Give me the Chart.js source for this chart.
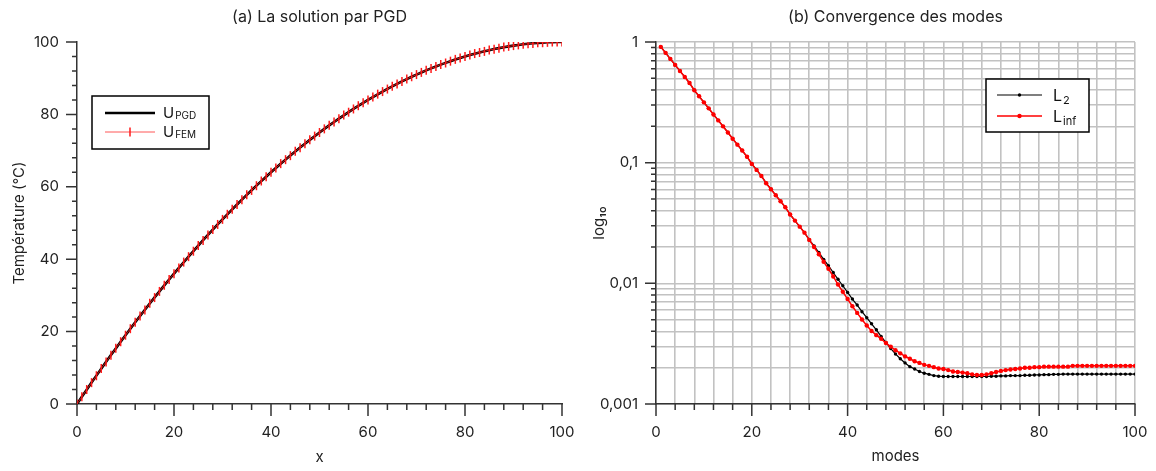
<!DOCTYPE html>
<html>
<head>
<meta charset="utf-8">
<script src="https://cdn.jsdelivr.net/npm/chart.js@4.4.0/dist/chart.umd.min.js"></script>
<style>
  html, body { margin: 0; padding: 0; background: #fff; }
  #wrap { position: relative; width: 1156px; height: 471px; }
  #wrap canvas { position: absolute; top: 0; }
</style>
</head>
<body>
<div id="wrap">
  <canvas id="tempChart" width="578" height="471" style="left:0"></canvas>
  <canvas id="convChart" width="578" height="471" style="left:578px"></canvas>
</div>
<script>
Chart.defaults.font.family = 'Inter, "Noto Sans", sans-serif';
Chart.defaults.font.size = 15;
Chart.defaults.color = '#222';

// (a) temperature along x
const xPos = [0,1,2,3,4,5,6,7,8,9,10,11,12,13,14,15,16,17,18,19,20,21,22,23,24,25,26,27,28,29,30,
  31,32,33,34,35,36,37,38,39,40,41,42,43,44,45,46,47,48,49,50,51,52,53,54,55,56,57,58,59,60,
  61,62,63,64,65,66,67,68,69,70,71,72,73,74,75,76,77,78,79,80,81,82,83,84,85,86,87,88,89,90,
  91,92,93,94,95,96,97,98,99,100];
const uPgd = [0,1.99,3.96,5.91,7.84,9.75,11.64,13.51,15.36,17.19,19.00,20.79,22.56,24.31,26.04,27.75,
  29.44,31.11,32.76,34.39,36.00,37.59,39.16,40.71,42.24,43.75,45.24,46.71,48.16,49.59,51.00,
  52.39,53.76,55.11,56.44,57.75,59.04,60.31,61.56,62.79,64.00,65.19,66.36,67.51,68.64,69.75,
  70.84,71.91,72.96,73.99,75.00,75.99,76.96,77.91,78.84,79.75,80.64,81.51,82.36,83.19,84.00,
  84.79,85.56,86.31,87.04,87.75,88.44,89.11,89.76,90.39,91.00,91.59,92.16,92.71,93.24,93.75,
  94.24,94.71,95.16,95.59,96.00,96.39,96.76,97.11,97.44,97.75,98.04,98.31,98.56,98.79,99.00,
  99.19,99.36,99.51,99.64,99.75,99.84,99.91,99.96,99.99,100];
const uFem = [0,2.0,4.0,5.9,7.8,9.8,11.6,13.5,15.4,17.2,19.0,20.8,22.6,24.3,26.0,27.8,
  29.4,31.1,32.8,34.4,36.0,37.6,39.2,40.7,42.2,43.8,45.2,46.7,48.2,49.6,51.0,
  52.4,53.8,55.1,56.4,57.8,59.0,60.3,61.6,62.8,64.0,65.2,66.4,67.5,68.6,69.8,
  70.8,71.9,73.0,74.0,75.0,76.0,77.0,77.9,78.8,79.8,80.6,81.5,82.4,83.2,84.0,
  84.8,85.6,86.3,87.0,87.8,88.4,89.1,89.8,90.4,91.0,91.6,92.2,92.7,93.2,93.8,
  94.2,94.7,95.2,95.6,96.0,96.4,96.8,97.1,97.4,97.8,98.0,98.3,98.6,98.8,99.0,
  99.2,99.4,99.5,99.6,99.8,99.8,99.9,100.0,100.0,100];

// (b) error per number of modes
const modes = xPos.slice(1);
const errL2 = [0.912,0.813,0.724,0.646,0.575,0.513,0.457,0.398,0.355,0.316,
  0.282,0.251,0.224,0.200,0.178,0.158,0.141,0.126,0.112,0.0977,
  0.0871,0.0776,0.0676,0.0603,0.0537,0.0479,0.0427,0.0372,0.0331,0.0295,
  0.0263,0.0229,0.0204,0.0180,0.0158,0.0140,0.0123,0.0108,0.00955,0.00841,
  0.00741,0.00661,0.00582,0.00519,0.00462,0.00412,0.00363,0.00324,0.00288,0.00260,
  0.00237,0.00219,0.00204,0.00195,0.00186,0.00180,0.00176,0.00172,0.00170,0.00169,
  0.00169,0.00169,0.00169,0.00169,0.00169,0.00169,0.00169,0.00169,0.00169,0.00170,
  0.00170,0.00171,0.00171,0.00172,0.00172,0.00172,0.00173,0.00173,0.00174,0.00174,
  0.00175,0.00175,0.00176,0.00176,0.00177,0.00177,0.00177,0.00177,0.00177,0.00177,
  0.00177,0.00177,0.00177,0.00177,0.00177,0.00177,0.00177,0.00177,0.00177,0.00177];
const errLinf = [0.912,0.813,0.724,0.646,0.575,0.513,0.457,0.398,0.355,0.316,
  0.282,0.251,0.224,0.200,0.178,0.158,0.141,0.126,0.112,0.0977,
  0.0871,0.0776,0.0676,0.0603,0.0537,0.0479,0.0427,0.0372,0.0331,0.0295,
  0.0263,0.0229,0.0200,0.0174,0.0151,0.0132,0.0114,0.00977,0.00851,0.00741,
  0.00646,0.00569,0.00501,0.00447,0.00403,0.00372,0.00347,0.00320,0.00299,0.00279,
  0.00263,0.00248,0.00237,0.00226,0.00219,0.00211,0.00207,0.00202,0.00197,0.00195,
  0.00191,0.00186,0.00184,0.00182,0.00180,0.00176,0.00174,0.00174,0.00176,0.00180,
  0.00184,0.00188,0.00191,0.00193,0.00195,0.00197,0.00200,0.00200,0.00202,0.00202,
  0.00204,0.00204,0.00204,0.00204,0.00204,0.00204,0.00207,0.00207,0.00207,0.00207,
  0.00207,0.00207,0.00207,0.00207,0.00207,0.00207,0.00207,0.00207,0.00207,0.00207];

const logTicks = [0.001,0.002,0.003,0.004,0.005,0.006,0.007,0.008,0.009,
  0.01,0.02,0.03,0.04,0.05,0.06,0.07,0.08,0.09,
  0.1,0.2,0.3,0.4,0.5,0.6,0.7,0.8,0.9,1];
const decadeLabels = { '0.001': '0,001', '0.01': '0,01', '0.1': '0,1', '1': '1' };

const FONT = 'Inter, "Noto Sans", sans-serif';

// title over the plot area
const panelTitle = {
  id: 'panelTitle',
  afterDraw(chart, args, opts) {
    const { ctx, chartArea } = chart;
    ctx.save();
    ctx.font = '16px ' + FONT;
    ctx.fillStyle = '#222';
    ctx.textAlign = 'center';
    ctx.textBaseline = 'middle';
    ctx.fillText(opts.text, (chartArea.left + chartArea.right) / 2, 17);
    ctx.restore();
  }
};

// outward tick marks, long ones at labelled values
const tickMarks = {
  id: 'tickMarks',
  afterDraw(chart) {
    const { ctx, scales: { x, y } } = chart;
    const isLog = y.type === 'logarithmic';
    ctx.save();
    ctx.strokeStyle = '#333';
    ctx.lineWidth = 1.5;
    ctx.beginPath();
    x.ticks.forEach(t => {
      const px = x.getPixelForValue(t.value);
      const len = t.value % 20 === 0 ? 12 : 6;
      ctx.moveTo(px, x.top);
      ctx.lineTo(px, x.top + len);
    });
    y.ticks.forEach(t => {
      const py = y.getPixelForValue(t.value);
      const major = isLog ? decadeLabels[String(t.value)] !== undefined : t.value % 20 === 0;
      const len = major ? 11 : 5;
      ctx.moveTo(y.right - len, py);
      ctx.lineTo(y.right, py);
    });
    ctx.stroke();
    ctx.restore();
  }
};

// boxed legend with subscripts
const subLegend = {
  id: 'subLegend',
  afterDraw(chart, args, opts) {
    const { ctx } = chart;
    const [bx, by, bw, bh] = opts.box;
    ctx.save();
    ctx.fillStyle = '#fff';
    ctx.fillRect(bx, by, bw, bh);
    ctx.strokeStyle = '#000';
    ctx.lineWidth = 1.5;
    ctx.strokeRect(bx, by, bw, bh);
    chart.data.datasets.forEach((ds, i) => {
      const ly = opts.rows[i];
      const [x0, x1] = opts.line;
      ctx.strokeStyle = ds.borderColor;
      ctx.lineWidth = ds.borderWidth;
      ctx.beginPath();
      ctx.moveTo(x0, ly);
      ctx.lineTo(x1, ly);
      ctx.stroke();
      const cx = (x0 + x1) / 2;
      if (ds.pointRadius > 0) {
        if (ds.pointStyle === 'line') {
          ctx.strokeStyle = ds.pointBorderColor;
          ctx.lineWidth = ds.pointBorderWidth;
          ctx.beginPath();
          ctx.moveTo(cx, ly - ds.pointRadius);
          ctx.lineTo(cx, ly + ds.pointRadius);
          ctx.stroke();
        } else {
          ctx.fillStyle = ds.backgroundColor;
          ctx.beginPath();
          ctx.arc(cx, ly, ds.pointRadius, 0, Math.PI * 2);
          ctx.fill();
        }
      }
      const [main, sub] = opts.labels[i];
      ctx.fillStyle = '#111';
      ctx.textBaseline = 'alphabetic';
      ctx.font = opts.size + 'px ' + FONT;
      const base = ly + opts.size * 0.36;
      ctx.fillText(main, opts.textX, base);
      const w = ctx.measureText(main).width;
      ctx.font = opts.subSize + 'px ' + FONT;
      ctx.fillText(sub, opts.textX + w + 1, base + opts.subDrop);
    });
    ctx.restore();
  }
};

// x scale: fixed height, no extra side padding from the end labels
const fitX = s => { s.height = 67; s.paddingLeft = 0; s.paddingRight = 0; };

new Chart(document.getElementById('tempChart'), {
  type: 'line',
  data: {
    datasets: [{
      label: 'U PGD',
      data: xPos.map((x, i) => ({ x: x, y: uPgd[i] })),
      borderColor: '#000',
      borderWidth: 2.6,
      pointRadius: 0,
      order: 1
    }, {
      label: 'U FEM',
      data: xPos.map((x, i) => ({ x: x, y: uFem[i] })),
      borderColor: 'rgba(255,30,30,0.75)',
      borderWidth: 1,
      pointStyle: 'line',
      rotation: 90,
      pointRadius: 4.5,
      pointBorderWidth: 1.5,
      pointBorderColor: '#ff1a1a',
      order: 0
    }]
  },
  options: {
    responsive: false,
    animation: false,
    events: [],
    layout: { padding: { top: 42, right: 16, left: 0, bottom: 0 } },
    plugins: {
      legend: { display: false },
      tooltip: { enabled: false },
      panelTitle: { text: '(a) La solution par PGD' },
      subLegend: {
        box: [92, 96, 117, 53], rows: [113, 132], line: [105, 155], textX: 163,
        labels: [['U', 'PGD'], ['U', 'FEM']], size: 15, subSize: 10, subDrop: 1
      }
    },
    scales: {
      x: {
        type: 'linear', min: 0, max: 100,
        afterFit: fitX,
        grid: { drawOnChartArea: false, drawTicks: false },
        border: { color: '#333', width: 1.5 },
        ticks: { stepSize: 4, autoSkip: false, maxRotation: 0, padding: 19,
          callback: v => v % 20 === 0 ? v : '' },
        title: { display: true, text: 'x', padding: { bottom: 5 } }
      },
      y: {
        type: 'linear', min: 0, max: 100,
        afterFit: s => { s.width = 77; },
        grid: { drawOnChartArea: false, drawTicks: false },
        border: { color: '#333', width: 1.5 },
        ticks: { stepSize: 4, autoSkip: false, padding: 18,
          callback: v => v % 20 === 0 ? v : '' },
        title: { display: true, text: 'Température (°C)', padding: { top: 10 } }
      }
    }
  },
  plugins: [panelTitle, tickMarks, subLegend]
});

new Chart(document.getElementById('convChart'), {
  type: 'line',
  data: {
    datasets: [{
      label: 'L2',
      data: modes.map((m, i) => ({ x: m, y: errL2[i] })),
      borderColor: '#000',
      backgroundColor: '#000',
      borderWidth: 1.2,
      pointRadius: 1.7,
      pointBorderWidth: 0,
      order: 1
    }, {
      label: 'Linf',
      data: modes.map((m, i) => ({ x: m, y: errLinf[i] })),
      borderColor: '#ff0000',
      backgroundColor: '#ff0000',
      borderWidth: 1.5,
      pointRadius: 2.2,
      pointBorderWidth: 0,
      order: 0
    }]
  },
  options: {
    responsive: false,
    animation: false,
    events: [],
    layout: { padding: { top: 42, right: 21, left: 0, bottom: 0 } },
    plugins: {
      legend: { display: false },
      tooltip: { enabled: false },
      panelTitle: { text: '(b) Convergence des modes' },
      subLegend: {
        box: [408, 79, 103, 53], rows: [95, 116], line: [419, 464], textX: 475,
        labels: [['L', '2'], ['L', 'inf']], size: 16, subSize: 11, subDrop: 3
      }
    },
    scales: {
      x: {
        type: 'linear', min: 0, max: 100,
        afterFit: fitX,
        grid: { color: '#c2c2c2', lineWidth: 1.6, drawTicks: false },
        border: { color: '#333', width: 1.5 },
        ticks: { stepSize: 4, autoSkip: false, maxRotation: 0, padding: 19,
          callback: v => v % 20 === 0 ? v : '' },
        title: { display: true, text: 'modes', padding: { bottom: 6 } }
      },
      y: {
        type: 'logarithmic', min: 0.001, max: 1,
        afterFit: s => { s.width = 78; },
        afterBuildTicks: s => { s.ticks = logTicks.map(v => ({ value: v })); },
        grid: { color: '#c2c2c2', lineWidth: 1.6, drawTicks: false },
        border: { color: '#333', width: 1.5 },
        ticks: { autoSkip: false, padding: 18,
          callback: v => decadeLabels[String(v)] || '' },
        title: { display: true, text: 'log₁₀', padding: { top: 12 } }
      }
    }
  },
  plugins: [panelTitle, tickMarks, subLegend]
});
</script>
</body>
</html>
